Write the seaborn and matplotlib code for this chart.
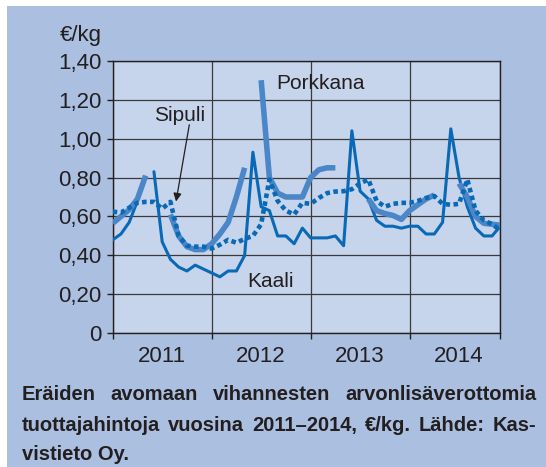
import numpy as np
import pandas as pd
import matplotlib
matplotlib.use('Agg')
import matplotlib.pyplot as plt
import seaborn as sns
from matplotlib.patches import Rectangle
from matplotlib.ticker import FixedLocator, NullFormatter, FixedFormatter

# === DATA: kuukausihinnat 2011-2014, €/kg (None = ei tietoa) ===
kuukaudet = list(range(48))

kaali = [0.48, 0.51, 0.57, 0.68, None, 0.83, 0.47, 0.38, 0.34, 0.32, 0.35, 0.33,
         0.31, 0.29, 0.32, 0.32, 0.40, 0.93, 0.65, 0.63, 0.50, 0.50, 0.46, 0.54,
         0.49, 0.49, 0.49, 0.50, 0.45, 1.04, 0.73, 0.69, 0.58, 0.55, 0.55, 0.54,
         0.55, 0.55, 0.51, 0.51, 0.57, 1.05, 0.80, 0.65, 0.54, 0.50, 0.50, 0.55]

porkkana = [0.565, 0.60, 0.635, 0.69, 0.81, None, None, 0.61, 0.50, 0.445, 0.43, 0.43,
            0.46, 0.51, 0.57, 0.70, 0.85, None, 1.30, 0.80, 0.72, 0.70, 0.70, 0.70,
            0.80, 0.84, 0.85, 0.85, None, None, None, 0.69, 0.63, 0.615, 0.605, 0.585,
            0.63, 0.66, 0.69, 0.71, None, None, 0.77, 0.70, 0.60, 0.565, 0.56, 0.555]

sipuli = [0.625, 0.62, 0.645, 0.67, 0.675, 0.675, 0.64, 0.675, 0.50, 0.45, 0.445, 0.445,
          0.435, 0.455, 0.48, 0.465, 0.485, 0.50, 0.56, 0.79, 0.68, 0.63, 0.61, 0.67,
          0.665, 0.695, 0.72, 0.728, 0.73, 0.74, 0.77, 0.79, 0.68, 0.65, 0.665, 0.67,
          0.67, 0.68, 0.695, 0.705, 0.665, 0.66, 0.665, 0.79, 0.63, 0.58, 0.56, 0.53]

vuodet = ['2011', '2012', '2013', '2014']
vuosi_rajat = [0, 12, 24, 36, 47]
vuosi_kesket = [6, 18, 30, 42]
y_arvot = [0, 0.2, 0.4, 0.6, 0.8, 1.0, 1.2, 1.4]
y_tekstit = ['0', '0,20', '0,40', '0,60', '0,80', '1,00', '1,20', '1,40']

kuvateksti = [
    'Eräiden avomaan vihannesten arvonlisäverottomia',
    'tuottajahintoja vuosina 2011–2014, €/kg. Lähde: Kas-',
    'vistieto Oy.',
]


# Pitkä taulukko: jokainen katkeamaton pätkä saa oman osa-numeron
def pitka_muoto(nimi, arvot):
    rivit = []
    osa = 0
    for kk, v in zip(kuukaudet, arvot):
        if v is None:
            osa += 1
            continue
        rivit.append({'sarja': nimi, 'kk': kk, 'hinta': v, 'osa': osa})
    return pd.DataFrame(rivit)


df = pd.concat([pitka_muoto('Kaali', kaali),
                pitka_muoto('Porkkana', porkkana),
                pitka_muoto('Sipuli', sipuli)], ignore_index=True)

# === TYYLI ===
sns.set_style('white')
plt.rcParams['font.family'] = ['Liberation Sans', 'DejaVu Sans']

tekstivari = '#231f20'
paneeli = '#abbfe0'
kentta = '#c6d4ec'
tumma = '#0a69b5'
vaalea = '#4b87c8'

fig = plt.figure(figsize=(5.46, 4.67), dpi=100, facecolor='white')
fig.patches.append(Rectangle((7 / 546, 0), 1, 1 - 6 / 467, transform=fig.transFigure,
                             facecolor=paneeli, edgecolor='none', zorder=-5))

ax = fig.add_axes([112.7 / 546, 1 - 333.3 / 467, 387.6 / 546, 272.6 / 467])
ax.set_facecolor(kentta)

# === VIIVAT ===
sns.lineplot(data=df[df.sarja == 'Kaali'], x='kk', y='hinta', units='osa', estimator=None,
             color=tumma, lw=2.2, ax=ax, zorder=3)
sns.lineplot(data=df[df.sarja == 'Porkkana'], x='kk', y='hinta', units='osa', estimator=None,
             color=vaalea, lw=4.0, ax=ax, zorder=4, solid_capstyle='butt')
sns.lineplot(data=df[df.sarja == 'Sipuli'], x='kk', y='hinta', units='osa', estimator=None,
             color=tumma, lw=3.3, linestyle=(0, (1, 0.75)), dash_capstyle='butt',
             ax=ax, zorder=5)

# === AKSELIT ===
ax.set_xlim(0, 47)
ax.set_ylim(0, 1.4)
ax.xaxis.set_major_locator(FixedLocator(vuosi_rajat))
ax.xaxis.set_major_formatter(NullFormatter())
ax.xaxis.set_minor_locator(FixedLocator(vuosi_kesket))
ax.xaxis.set_minor_formatter(FixedFormatter(vuodet))
ax.set_yticks(y_arvot)
ax.set_yticklabels(y_tekstit)
ax.tick_params(axis='x', which='major', direction='out', length=4.5, width=1,
               color=tekstivari, bottom=True)
ax.tick_params(axis='x', which='minor', length=0, pad=9, labelsize=16,
               labelcolor=tekstivari, bottom=True)
ax.tick_params(axis='y', direction='out', length=4.5, width=1, color=tekstivari,
               pad=3.5, labelsize=16, labelcolor=tekstivari, left=True)
ax.grid(True, which='major', color='#3a3a3a', lw=0.9)
ax.set_axisbelow(True)
for s in ax.spines.values():
    s.set_visible(True)
    s.set_color(tekstivari)
    s.set_linewidth(1.0)
ax.set_xlabel('')
ax.set_ylabel('')

# yksikkö
fig.text(101.7 / 546, 1 - 41 / 467, '€/kg', ha='right', va='baseline', fontsize=16,
         color=tekstivari)

# sarjojen nimet
ax.text(19.8, 1.256, 'Porkkana', fontsize=15, color=tekstivari, va='baseline')
ax.text(5.0, 1.091, 'Sipuli', fontsize=15, color=tekstivari, va='baseline')
ax.text(16.3, 0.24, 'Kaali', fontsize=15, color=tekstivari, va='baseline')
ax.annotate('', xy=(7.68, 0.677), xytext=(9.29, 1.071),
            arrowprops=dict(arrowstyle='-|>', color=tekstivari, lw=0.9,
                            mutation_scale=12, shrinkA=0, shrinkB=0), zorder=6)

# === KUVATEKSTI (tasattu) ===
fig.canvas.draw()
renderer = fig.canvas.get_renderer()
vasen, oikea = 22 / 546, 536 / 546
pohjat = [1 - 400 / 467, 1 - 431 / 467, 1 - 460 / 467]
for rivi, (teksti, y) in enumerate(zip(kuvateksti, pohjat)):
    if rivi == len(kuvateksti) - 1:
        fig.text(vasen, y, teksti, family='Liberation Sans', weight='bold', fontsize=14.5,
                 color=tekstivari, va='baseline')
        continue
    sanat = teksti.split(' ')
    osat = [fig.text(0, y, s, family='Liberation Sans', weight='bold', fontsize=14.5,
                     color=tekstivari, va='baseline') for s in sanat]
    leveydet = [t.get_window_extent(renderer).width / fig.bbox.width for t in osat]
    vali = (oikea - vasen - sum(leveydet)) / (len(sanat) - 1)
    x = vasen
    for t, w in zip(osat, leveydet):
        t.set_x(x)
        x += w + vali

fig.savefig('out.png', dpi=100, facecolor='white')
